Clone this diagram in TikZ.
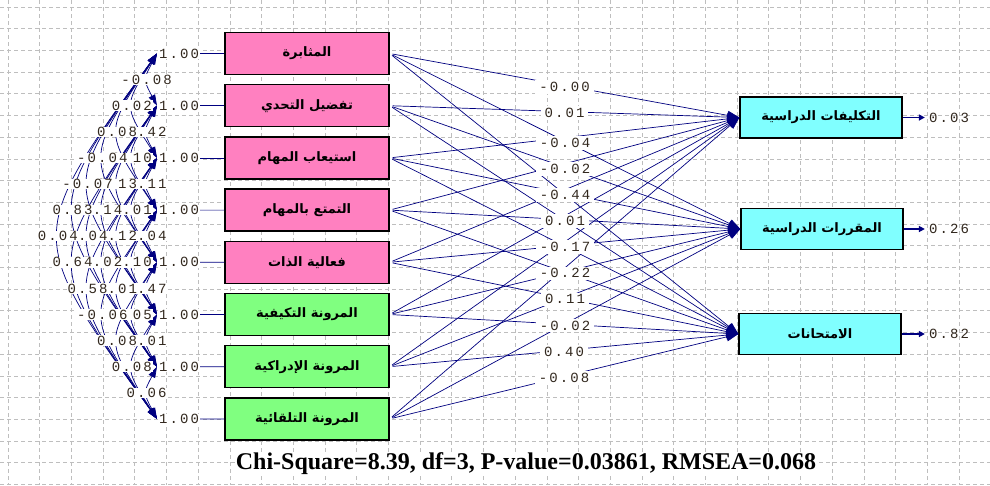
\documentclass[tikz,border=0pt]{standalone}
\usepackage{fontspec}
\usetikzlibrary{arrows.meta}
\setmainfont{Liberation Serif}
\newfontfamily\arabicfont[Script=Arabic]{DejaVu Sans}
\newfontfamily\numfont[LetterSpace=15]{Liberation Mono}
\TeXXeTstate=1
\definecolor{lpink}{RGB}{255,128,192}
\definecolor{lgreen}{RGB}{128,255,128}
\definecolor{lcyan}{RGB}{128,255,255}
\definecolor{lisblue}{RGB}{0,0,128}
\definecolor{numtext}{RGB}{50,40,30}
\definecolor{gridgray}{RGB}{190,190,190}
\tikzset{
  box/.style={draw=black,line width=1.3pt,minimum width=164pt,minimum height=42pt,inner sep=0pt,
    font=\arabicfont\bfseries\fontsize{13}{15}\selectfont},
  xpink/.style={box,fill=lpink},
  xgreen/.style={box,fill=lgreen},
  ybox/.style={box,fill=lcyan,minimum width=162pt,minimum height=41pt},
  num/.style={font=\numfont\fontsize{14}{16}\selectfont,text=numtext,fill=white,inner xsep=1pt,inner ysep=0.5pt},
  est/.style={num,inner xsep=4pt,inner ysep=2pt},
  link/.style={lisblue,line width=0.7pt},
  cov/.style={link,{Triangle[length=11pt,width=7pt]}-{Triangle[length=11pt,width=7pt]}},
  gam/.style={link,shorten <=3pt,-{Triangle[length=12pt,width=9pt]}},
  err/.style={link,line width=1.6pt,shorten >=3pt,-{Triangle[length=6pt,width=6pt]}},
  gridline/.style={gridgray,line width=0.7pt,dash pattern=on 4pt off 3pt}
}
\def\covlist{1/2/-0.08,2/3/0.42,3/4/0.11,4/5/0.04,5/6/0.47,6/7/0.01,7/8/0.06,
  1/3/0.02,2/4/0.10,3/5/0.01,4/6/0.10,5/7/0.05,6/8/0.08,
  1/4/0.08,2/5/0.13,3/6/0.12,4/7/0.01,5/8/0.08,
  1/5/-0.04,2/6/0.14,3/7/0.02,4/8/-0.06,
  1/6/-0.07,2/7/0.04,3/8/0.58,
  1/7/0.83,2/8/0.64,
  1/8/0.04}
\begin{document}
\begin{tikzpicture}[x=1pt,y=-1pt]
  \useasboundingbox (0,0) rectangle (990,485);
  \fill[white] (0,0) rectangle (990,485);
  % grid
  \foreach \k in {0,...,31} \draw[gridline] (8+31.7*\k,0) -- (8+31.7*\k,485);
  \foreach \k in {0,...,22} \draw[gridline] (0,7+21.7*\k) -- (990,7+21.7*\k);
  % observed variables
  \node[xpink]  (x1) at (307,53.5)  {\beginR المثابرة\endR};
  \node[xpink]  (x2) at (307,105.7) {\beginR تفضيل التحدي\endR};
  \node[xpink]  (x3) at (307,157.9) {\beginR استيعاب المهام\endR};
  \node[xpink]  (x4) at (307,210.1) {\beginR التمتع بالمهام\endR};
  \node[xpink]  (x5) at (307,262.3) {\beginR فعالية الذات\endR};
  \node[xgreen] (x6) at (307,314.5) {\beginR المرونة التكيفية\endR};
  \node[xgreen] (x7) at (307,366.7) {\beginR المرونة الإدراكية\endR};
  \node[xgreen] (x8) at (307,418.9) {\beginR المرونة التلقائية\endR};
  \node[ybox] (y1) at (821,117.5) {\beginR التكليفات الدراسية\endR};
  \node[ybox] (y2) at (822,229)   {\beginR المقررات الدراسية\endR};
  \node[ybox] (y3) at (820,334)   {\beginR الامتحانات\endR};
  % covariances
  \foreach \i in {1,...,8} \coordinate (t\i) at (157,53.5+52.2*\i-52.2);
  \foreach \i/\j/\v in \covlist {
    \pgfmathsetmacro\cx{(161.5-14.8*(\j-\i)-39.25)*4/3}
    \pgfmathsetmacro\cy{53.5+26.1*(\i+\j-2)}
    \draw[cov] (t\i) .. controls (\cx,\cy) .. (t\j);
  }
  \foreach \i/\j/\v in \covlist {
    \pgfmathsetmacro\cx{(161.5-14.8*(\j-\i)-39.25)*4/3}
    \pgfmathsetmacro\cy{53.5+26.1*(\i+\j-2)}
    \path (t\i) .. controls (\cx,\cy) .. node[num]{\v} (t\j);
  }
  \foreach \i in {1,...,8} {
    \node[num] (v\i) at (179,53.5+52.2*\i-52.2) {1.00};
    \draw[link] (v\i) -- (x\i);
  }
  % paths
  \foreach \i in {1,...,8} \foreach \k in {1,2,3} \draw[gam] (x\i.east) -- (y\k.west);
  \foreach \i/\k/\v in {1/1/-0.00,2/1/0.01,1/2/-0.04,2/2/-0.02,3/2/-0.44,4/2/0.01,
      5/2/-0.17,6/2/-0.22,7/2/0.11,8/2/-0.02,7/3/0.40,8/3/-0.08}
    \path (x\i.east) -- node[est,yshift=-1.5pt]{\v} (y\k.west);
  % errors
  \node[num,fill=none] (e1) at (949,117.5) {0.03};
  \node[num,fill=none] (e2) at (949,229)   {0.26};
  \node[num,fill=none] (e3) at (949,334)   {0.82};
  \foreach \k in {1,2,3} \draw[err] (y\k.east) -- (e\k.west);
  \node[fill=white,inner sep=1pt,font=\bfseries\fontsize{24}{28}\selectfont] (fit) at (526,464)
    {Chi-Square=8.39, df=3, P-value=0.03861, RMSEA=0.068};
\end{tikzpicture}
\end{document}
